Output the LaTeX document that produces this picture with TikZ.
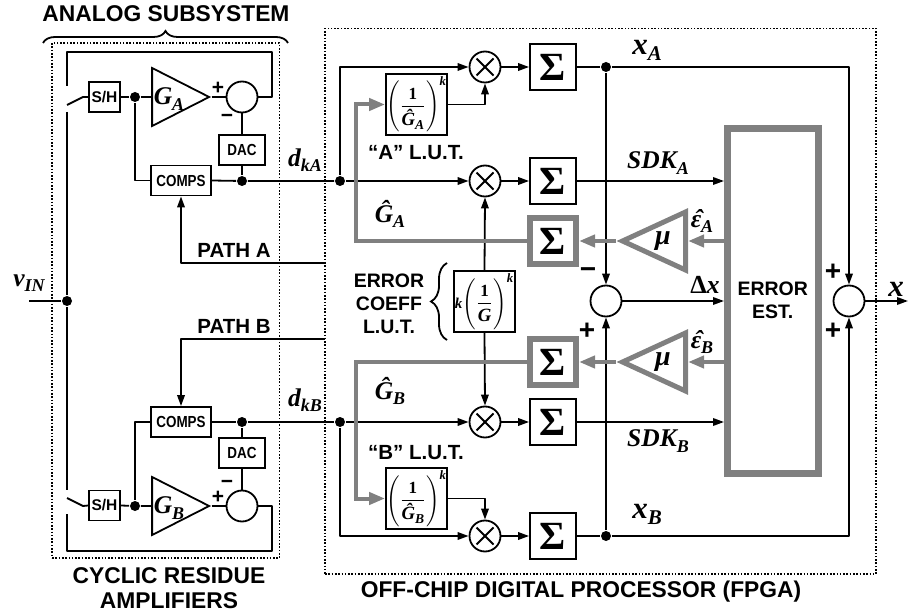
\documentclass[tikz,border=0pt]{standalone}
\usepackage{fontspec}
\usepackage{amsmath}
\setmainfont{Liberation Sans}
\newfontfamily\symfont{Liberation Serif}
\usetikzlibrary{arrows.meta,shapes.geometric,decorations.pathreplacing}

\definecolor{thickgray}{HTML}{808080}

% italic symbols with a lowered subscript
\newcommand{\symvar}[2]{{\symfont\bfseries\itshape\fontsize{25.5}{27}\selectfont #1\raisebox{-5.5pt}{\fontsize{18}{20}\selectfont #2}}}
\newcommand{\bigvar}[2]{{\symfont\bfseries\itshape\fontsize{31}{31}\selectfont #1\raisebox{-6pt}{\fontsize{21}{23}\selectfont #2}}}
\newcommand{\smallvar}[2]{{\symfont\bfseries\itshape\fontsize{11}{13}\selectfont #1\raisebox{-2.5pt}{\fontsize{8}{10}\selectfont #2}}}
\newcommand{\hateps}{\rlap{\kern.14em ˆ}ε}
\newcommand{\condlab}[1]{\scalebox{.84}[1]{\fontsize{16}{18}\selectfont #1}}
\newcommand{\lutexp}[2]{\scalebox{1.7}{\fontsize{10}{12}\selectfont$\displaystyle\left(\frac{\mbox{\rule[-2pt]{0pt}{10pt}\symfont\bfseries 1}}{\mbox{\rule[-4pt]{0pt}{13pt}\smallvar{#1}{#2}}}\right)^{\mbox{\symfont\bfseries\itshape\fontsize{7.5}{9}\selectfont k}}$}}

\begin{document}
\begin{tikzpicture}[x=1pt,y=-1pt,line width=1.8pt,
    every node/.style={inner sep=0pt,font=\bfseries\fontsize{20.5}{24}\selectfont,align=center},
    block/.style={draw,shape=rectangle,minimum width=#1},
    wire/.style={draw,line join=round},
    arrow/.style={wire,-{Triangle[length=11pt,width=7.5pt]}},
    grayline/.style={draw=thickgray,line width=4pt,line join=miter},
    grayarrow/.style={grayline,-{Triangle[length=16pt,width=12pt]}},
    dot/.style={shape=circle,fill=black,minimum size=10pt},
    summer/.style={draw,shape=circle,minimum size=31pt},
    mult/.style={summer,path picture={
        \draw (path picture bounding box.center) ++(-8.5,-8.5) -- ++(17,17);
        \draw (path picture bounding box.center) ++(-8.5,8.5) -- ++(17,-17);}},
    amp/.style={draw,shape=isosceles triangle,isosceles triangle stretches,shape border rotate=0,
        minimum width=58pt,minimum height=57pt,anchor=apex},
    mu/.style={draw=thickgray,line width=5pt,shape=isosceles triangle,isosceles triangle stretches,
        shape border rotate=180,minimum width=58pt,minimum height=63pt,anchor=apex},
    sigma/.style={block=46pt,minimum height=46pt,font=\symfont\bfseries\fontsize{40}{40}\selectfont},
    graysigma/.style={draw=thickgray,shape=rectangle,line width=6pt,minimum width=46pt,minimum height=46pt,
        font=\symfont\bfseries\fontsize{40}{40}\selectfont},
    lut/.style={block=61pt,minimum height=61pt},
    smallbox/.style={block=#1,minimum height=30pt},
    dottedbox/.style={draw,shape=rectangle,line width=1.6pt,dash pattern=on 1.6pt off 1.7pt},
    pm/.style={font=\bfseries\fontsize{21}{21}\selectfont},
    bigpm/.style={font=\bfseries\fontsize{28}{28}\selectfont},
    estfont/.style={font=\bfseries\fontsize{19.5}{23}\selectfont},
    title/.style={font=\bfseries\fontsize{22.8}{25.5}\selectfont}]

  \useasboundingbox (0,0) rectangle (908,612);

  % Dotted outlines and headings
  \node[dottedbox,minimum width=227.5pt,minimum height=515pt] (analogbox) at (165.75,300.5) {};
  \node[dottedbox,minimum width=551pt,minimum height=545.5pt] (digitalbox) at (600.5,301.25) {};
  \node[title] (analogtitle) at (166,14) {ANALOG SUBSYSTEM};
  \node[title] (cyclic) at (169,588) {CYCLIC RESIDUE\\AMPLIFIERS};
  \node[title] (offchip) at (581,592) {OFF-CHIP DIGITAL PROCESSOR (FPGA)};
  \coordinate (bracel) at (43,43);
  \coordinate (bracer) at (288,43);

  % Specification of nodes: amplifier A
  \node[smallbox=31pt] (shA) at (104.5,97) {\fontsize{15.5}{18}\selectfont S/H};
  \node[dot] (inA) at (135,97) {};
  \node[amp] (ampA) at (211.5,97) {};
  \node (gainA) at (169,99) {\symvar{G}{A}};
  \node[summer] (sumA) at (242,97) {};
  \node[smallbox=46pt] (dacA) at (242,150) {\condlab{DAC}};
  \node[smallbox=60pt] (compsA) at (181,180.5) {\condlab{COMPS}};
  \node[dot] (outA) at (242,181) {};
  \node[pm] (plusA) at (218,88) {+};
  \node[pm] (minusA) at (227,118) {−};
  \node (pathA) at (234,250) {PATH A};
  \node (dkA) at (305,160) {\symvar{d}{kA}};
  \coordinate (pathAend) at (325,263);

  % amplifier B
  \node[smallbox=31pt] (shB) at (104.5,505.5) {\fontsize{15.5}{18}\selectfont S/H};
  \node[dot] (inB) at (135,506) {};
  \node[amp] (ampB) at (211.5,506) {};
  \node (gainB) at (169,508) {\symvar{G}{B}};
  \node[summer] (sumB) at (242,506) {};
  \node[smallbox=46pt] (dacB) at (242,453) {\condlab{DAC}};
  \node[smallbox=60pt] (compsB) at (181,422) {\condlab{COMPS}};
  \node[dot] (outB) at (242,422) {};
  \node[pm] (plusB) at (218,497) {+};
  \node[pm] (minusB) at (227,484) {−};
  \node (pathB) at (234,326) {PATH B};
  \node (dkB) at (305,400) {\symvar{d}{kB}};
  \coordinate (pathBend) at (325,339);

  % input and the switches
  \node (vin) at (29,283) {\symvar{v}{IN}};
  \coordinate (vinin) at (29,301);
  \node[dot] (vindot) at (67,301) {};
  \coordinate (topA) at (67,52);
  \coordinate (fbA) at (272,97);
  \coordinate (swAtop) at (67,86);
  \coordinate (swApole) at (67,105);
  \coordinate (swAbend) at (83,97);
  \coordinate (swAbot) at (67,112);
  \coordinate (botB) at (67,551);
  \coordinate (fbB) at (272,506);
  \coordinate (swBbot) at (67,514);
  \coordinate (swBpole) at (67,498);
  \coordinate (swBbend) at (83,506);
  \coordinate (swBtop) at (67,490);

  % digital side, upper half
  \node[dot] (dotA) at (340,181) {};
  \node[mult] (mulA) at (485,67) {};
  \node[mult] (mulSA) at (485,181) {};
  \node[sigma] (sigA) at (553,67) {Σ};
  \node[sigma] (sigSA) at (553,181) {Σ};
  \node[graysigma] (sigGA) at (553,241) {Σ};
  \node[lut] (lutA) at (416.5,104.5) {\lutexp{\^{G}}{A}};
  \node (lutlabA) at (416,153) {“A” L.U.T.};
  \node (hatA) at (390,214) {\symvar{\^{G}}{A}};
  \node[dot] (xdotA) at (606,67) {};
  \node (xA) at (647,50) {\bigvar{x}{A}};
  \node (sdkA) at (658,163) {\symvar{SDK}{A}};
  \coordinate (bendA) at (356,241);

  % digital side, lower half
  \node[dot] (dotB) at (340,422) {};
  \node[mult] (mulB) at (485,536) {};
  \node[mult] (mulSB) at (485,422) {};
  \node[sigma] (sigB) at (553,536) {Σ};
  \node[sigma] (sigSB) at (553,422) {Σ};
  \node[graysigma] (sigGB) at (553,362) {Σ};
  \node[lut] (lutB) at (416.5,498.5) {\lutexp{\^{G}}{B}};
  \node (lutlabB) at (416,453) {“B” L.U.T.};
  \node (hatB) at (390,391) {\symvar{\^{G}}{B}};
  \node[dot] (xdotB) at (606,536) {};
  \node (xB) at (647,514) {\bigvar{x}{B}};
  \node (sdkB) at (658,441) {\symvar{SDK}{B}};
  \coordinate (bendB) at (356,362);

  % error coefficient look-up table
  \node[lut] (lutC) at (484.5,301.5) {\mbox{\symfont\bfseries\itshape\fontsize{15}{18}\selectfont k}\lutexp{G}{}};
  \node[estfont] (coefflab) at (389,304) {ERROR\\COEFF\\L.U.T.};
  \coordinate (brcbot) at (447,340);
  \coordinate (brctop) at (447,263);

  % error estimator and the output
  \node[draw=thickgray,shape=rectangle,line width=7pt,minimum width=90.5pt,minimum height=344.5pt,estfont] (est) at (772.75,300.75) {\textcolor{black}{ERROR}\\\textcolor{black}{EST.}};
  \node[mu] (muA) at (616,241) {};
  \node[mu] (muB) at (616,362) {};
  \node (muAtext) at (663,241) {\symfont\bfseries\itshape\fontsize{28}{28}\selectfont μ};
  \node (muBtext) at (663,362) {\symfont\bfseries\itshape\fontsize{28}{28}\selectfont μ};
  \node (epsA) at (702,221) {\symvar{\hateps}{A}};
  \node (epsB) at (702,342) {\symvar{\hateps}{B}};
  \node[summer] (delta) at (606,301) {};
  \node (dx) at (705,285) {\symfont\bfseries\fontsize{26}{27}\selectfont Δ\textit{x}};
  \node[summer] (sumX) at (849,301) {};
  \node (xout) at (896,289) {\symfont\bfseries\itshape\fontsize{31}{31}\selectfont x};
  \coordinate (xend) at (908,301);
  \node[bigpm] (minusD) at (588,273) {−};
  \node[bigpm] (plusD) at (587,331) {+};
  \node[bigpm] (plusXA) at (833,272) {+};
  \node[bigpm] (plusXB) at (833,331) {+};

  \begin{scope}
    % analog loops
    \draw[decorate,decoration={brace,amplitude=12pt}] (bracel) to (bracer);
    \draw[wire] (sumA.east) -- (fbA) |- (topA) -- (swAtop);
    \draw[wire] (swApole) -- (swAbend) -- (shA.west);
    \draw[wire] (shA.east) -- (inA) -- (ampA.lower side);
    \draw[wire] (ampA.apex) -- (sumA.west);
    \draw[wire] (inA) |- (compsA.west);
    \draw[wire] (sumA.south) -- (dacA.north);
    \draw[wire] (dacA.south) -- (outA);
    \draw[wire] (compsA.east) -- (outA) -- (dotA);
    \draw[arrow] (pathAend) -| (compsA.south);

    \draw[wire] (sumB.east) -- (fbB) |- (botB) -- (swBbot);
    \draw[wire] (swBpole) -- (swBbend) -- (shB.west);
    \draw[wire] (shB.east) -- (inB) -- (ampB.lower side);
    \draw[wire] (ampB.apex) -- (sumB.west);
    \draw[wire] (inB) |- (compsB.west);
    \draw[wire] (sumB.north) -- (dacB.south);
    \draw[wire] (dacB.north) -- (outB);
    \draw[wire] (compsB.east) -- (outB) -- (dotB);
    \draw[arrow] (pathBend) -| (compsB.north);

    % input
    \draw[wire] (vinin) -- (vindot);
    \draw[wire] (swAbot) -- (vindot) -- (swBtop);

    % digital paths
    \draw[arrow] (dotA) |- (mulA.west);
    \draw[arrow] (dotA) -- (mulSA.west);
    \draw[arrow] (mulA.east) -- (sigA.west);
    \draw[arrow] (mulSA.east) -- (sigSA.west);
    \draw[arrow] (lutA.east) -| (mulA.south);
    \draw[wire] (sigA.east) -- (xdotA);
    \draw[arrow] (xdotA) -- (delta.north);
    \draw[arrow] (xdotA) -| (sumX.north);
    \draw[arrow] (sigSA.east) -- (est.west |- sigSA);

    \draw[arrow] (dotB) |- (mulB.west);
    \draw[arrow] (dotB) -- (mulSB.west);
    \draw[arrow] (mulB.east) -- (sigB.west);
    \draw[arrow] (mulSB.east) -- (sigSB.west);
    \draw[arrow] (lutB.east) -| (mulB.north);
    \draw[wire] (sigB.east) -- (xdotB);
    \draw[arrow] (xdotB) -- (delta.south);
    \draw[arrow] (xdotB) -| (sumX.south);
    \draw[arrow] (sigSB.east) -- (est.west |- sigSB);

    \draw[arrow] (lutC.north) -- (mulSA.south);
    \draw[arrow] (lutC.south) -- (mulSB.north);
    \draw[decorate,decoration={brace,amplitude=16pt}] (brcbot) to (brctop);
    \draw[arrow] (delta.east) -- (est.west |- delta);
    \draw[arrow] (sumX.east) -- (xend);

    % adaptation loops
    \draw[grayarrow] (est.west |- muA.apex) -- (muA.lower side);
    \draw[grayarrow] (muA.apex) -- (sigGA.east);
    \draw[grayarrow] (sigGA.west) -- (bendA) |- (lutA.west);
    \draw[grayarrow] (est.west |- muB.apex) -- (muB.lower side);
    \draw[grayarrow] (muB.apex) -- (sigGB.east);
    \draw[grayarrow] (sigGB.west) -- (bendB) |- (lutB.west);
  \end{scope}

\end{tikzpicture}
\end{document}
